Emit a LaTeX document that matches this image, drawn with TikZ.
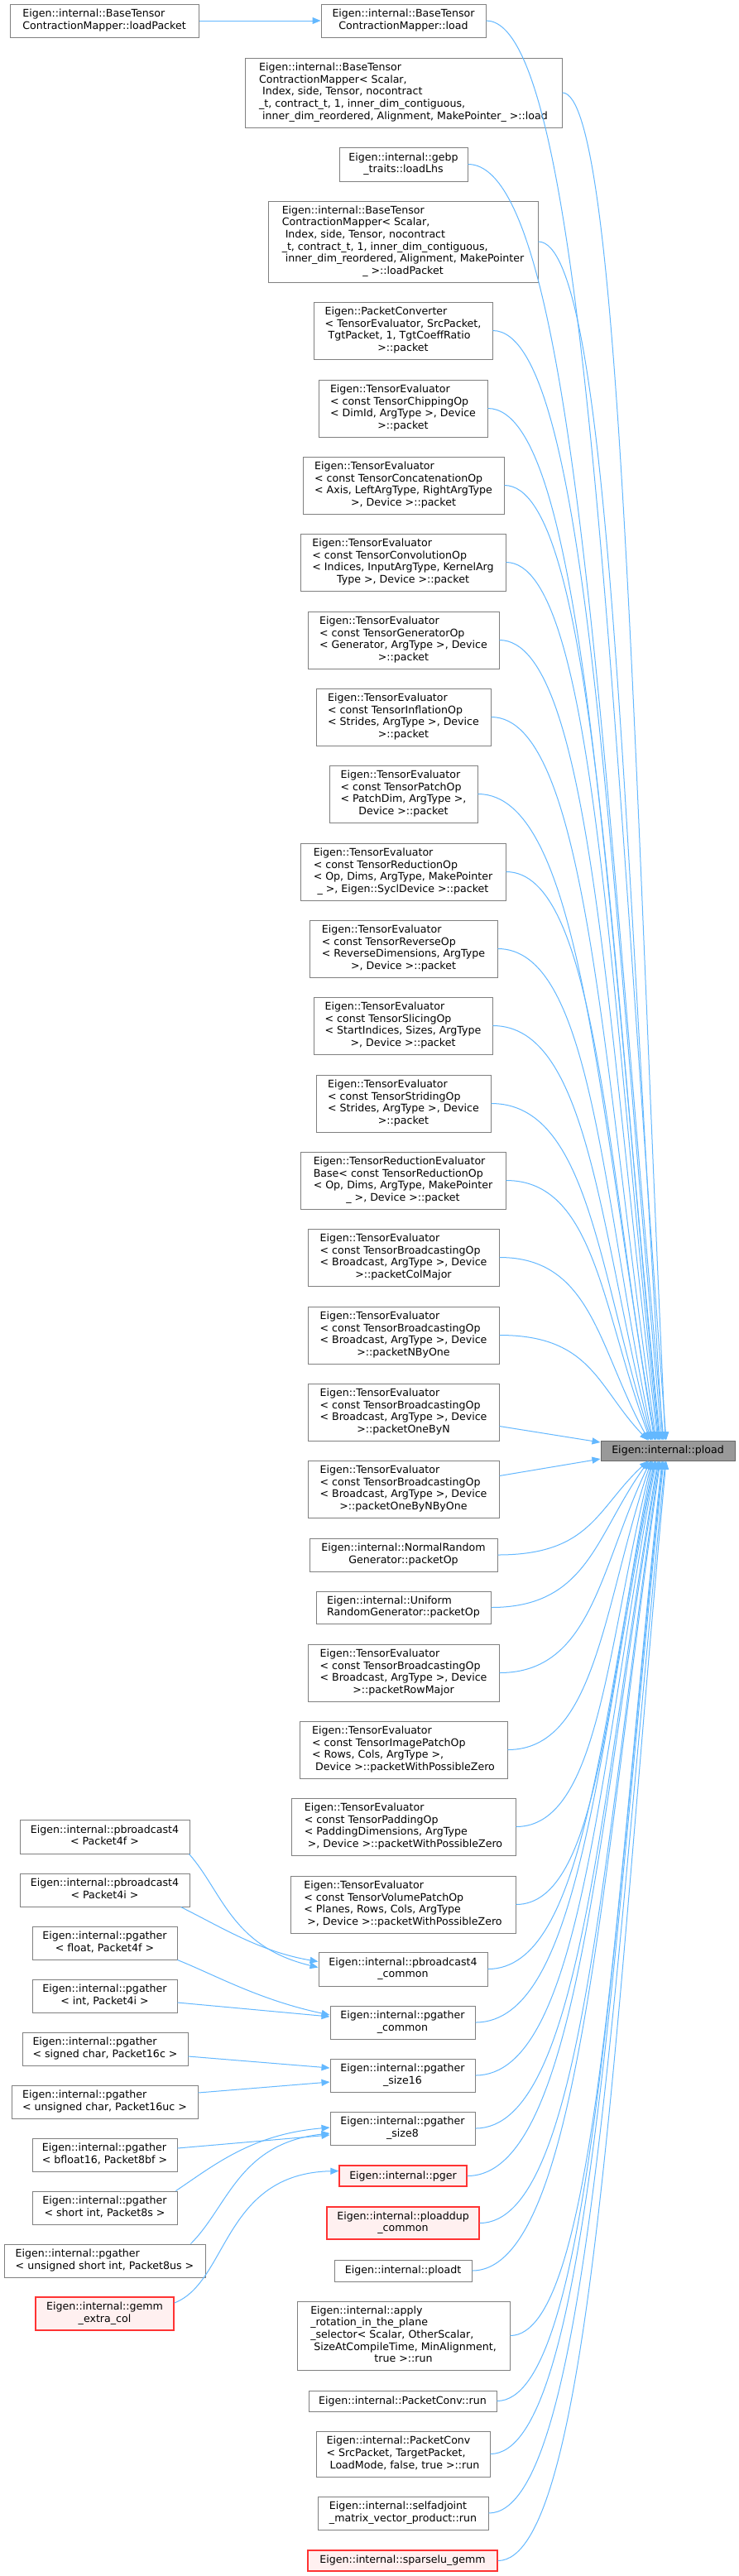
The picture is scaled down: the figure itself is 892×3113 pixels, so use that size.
\documentclass[tikz,border=0pt]{standalone}
\usepackage{fontspec}
\setmainfont{DejaVu Sans}
\usetikzlibrary{arrows.meta,calc}
\definecolor{lnkblue}{HTML}{63B8FF}
\definecolor{boxgrey}{HTML}{808080}
\definecolor{curgrey}{HTML}{666666}
\definecolor{curfill}{HTML}{999999}
\definecolor{boxred}{HTML}{FF3333}
\definecolor{boxpink}{HTML}{FFF0F0}
\begin{document}
\begin{tikzpicture}[x=1pt,y=1pt,>={Triangle[length=10pt,width=8pt]},
	lnk/.style={draw=lnkblue,line width=1pt,->},
	box/.style={draw=boxgrey,fill=white,line width=1pt,inner sep=0pt,font=\fontsize{12.6}{14.7}\selectfont},
	redbox/.style={box,draw=boxred,fill=boxpink,line width=1.3pt},
	curbox/.style={box,draw=curgrey,fill=curfill}]
\fill[white] (0,0) rectangle (892,-3113);
\useasboundingbox (0,0) rectangle (892,-3113);
\def\lbl#1#2{\begin{tabular}{@{}l@{}}#1\\\multicolumn{1}{@{}c@{}}{#2}\end{tabular}}
\def\bx#1#2#3#4#5#6#7{
	\node[#1,minimum width={#4pt-#3pt},minimum height={#6pt-#5pt}] (#2) at ({(#3+#4)/2},{-(#5+#6)/2}) {#7};
}
\def\tup#1#2#3{
	\draw[lnk] let \p1=(#1.east), \p2=(pload.#3) in (#1.east) .. controls +({0.55*(\x2-\x1)},0) and +({-0.3*(\x2-\x1)},{0.5*(\y1-\y2)}) .. ([xshift=#2pt]pload.#3);
}
\bx{curbox}{pload}{726}{888}{1741}{1765}{Eigen::internal::pload}
\bx{box}{lpk}{12}{240}{5}{45}{\lbl{Eigen::internal::BaseTensor}{ContractionMapper::loadPacket}}
\bx{box}{load}{388}{587}{5}{45}{\lbl{Eigen::internal::BaseTensor}{ContractionMapper::load}}
\bx{box}{bcmload}{296}{679}{70}{154}{\lbl{Eigen::internal::BaseTensor\\ContractionMapper< Scalar,\\\ Index, side, Tensor, nocontract\\\_t, contract\_t, 1, inner\_dim\_contiguous,}{\ inner\_dim\_reordered, Alignment, MakePointer\_ >::load}}
\bx{box}{gebp}{410}{565}{178}{219}{\lbl{Eigen::internal::gebp}{\_traits::loadLhs}}
\bx{box}{bcmlpk}{324}{650}{243}{341}{\lbl{Eigen::internal::BaseTensor\\ContractionMapper< Scalar,\\\ Index, side, Tensor, nocontract\\\_t, contract\_t, 1, inner\_dim\_contiguous,\\\ inner\_dim\_reordered, Alignment, MakePointer}{\_ >::loadPacket}}
\bx{box}{pconv}{379}{595}{365}{434}{\lbl{Eigen::PacketConverter\\< TensorEvaluator, SrcPacket,\\\ TgtPacket, 1, TgtCoeffRatio}{>::packet}}
\bx{box}{chip}{385}{589}{459}{528}{\lbl{Eigen::TensorEvaluator\\< const TensorChippingOp\\< DimId, ArgType >, Device}{>::packet}}
\bx{box}{concat}{366}{609}{552}{621}{\lbl{Eigen::TensorEvaluator\\< const TensorConcatenationOp\\< Axis, LeftArgType, RightArgType}{>, Device >::packet}}
\bx{box}{conv}{363}{611}{645}{714}{\lbl{Eigen::TensorEvaluator\\< const TensorConvolutionOp\\< Indices, InputArgType, KernelArg}{Type >, Device >::packet}}
\bx{box}{gen}{372}{603}{739}{808}{\lbl{Eigen::TensorEvaluator\\< const TensorGeneratorOp\\< Generator, ArgType >, Device}{>::packet}}
\bx{box}{infl}{382}{593}{832}{901}{\lbl{Eigen::TensorEvaluator\\< const TensorInflationOp\\< Strides, ArgType >, Device}{>::packet}}
\bx{box}{patch}{398}{577}{925}{994}{\lbl{Eigen::TensorEvaluator\\< const TensorPatchOp\\< PatchDim, ArgType >,}{Device >::packet}}
\bx{box}{red}{363}{611}{1019}{1088}{\lbl{Eigen::TensorEvaluator\\< const TensorReductionOp\\< Op, Dims, ArgType, MakePointer}{\_ >, Eigen::SyclDevice >::packet}}
\bx{box}{rev}{374}{601}{1112}{1181}{\lbl{Eigen::TensorEvaluator\\< const TensorReverseOp\\< ReverseDimensions, ArgType}{>, Device >::packet}}
\bx{box}{slice}{379}{595}{1205}{1274}{\lbl{Eigen::TensorEvaluator\\< const TensorSlicingOp\\< StartIndices, Sizes, ArgType}{>, Device >::packet}}
\bx{box}{stride}{382}{593}{1299}{1368}{\lbl{Eigen::TensorEvaluator\\< const TensorStridingOp\\< Strides, ArgType >, Device}{>::packet}}
\bx{box}{redbase}{363}{611}{1392}{1461}{\lbl{Eigen::TensorReductionEvaluator\\Base< const TensorReductionOp\\< Op, Dims, ArgType, MakePointer}{\_ >, Device >::packet}}
\bx{box}{colmaj}{372}{603}{1485}{1554}{\lbl{Eigen::TensorEvaluator\\< const TensorBroadcastingOp\\< Broadcast, ArgType >, Device}{>::packetColMajor}}
\bx{box}{nbyone}{372}{603}{1579}{1648}{\lbl{Eigen::TensorEvaluator\\< const TensorBroadcastingOp\\< Broadcast, ArgType >, Device}{>::packetNByOne}}
\bx{box}{onebyn}{372}{603}{1672}{1741}{\lbl{Eigen::TensorEvaluator\\< const TensorBroadcastingOp\\< Broadcast, ArgType >, Device}{>::packetOneByN}}
\bx{box}{onebynbyone}{372}{603}{1765}{1834}{\lbl{Eigen::TensorEvaluator\\< const TensorBroadcastingOp\\< Broadcast, ArgType >, Device}{>::packetOneByNByOne}}
\bx{box}{normal}{374}{601}{1859}{1899}{\lbl{Eigen::internal::NormalRandom}{Generator::packetOp}}
\bx{box}{uniform}{382}{593}{1923}{1962}{\lbl{Eigen::internal::Uniform}{RandomGenerator::packetOp}}
\bx{box}{rowmaj}{372}{603}{1987}{2056}{\lbl{Eigen::TensorEvaluator\\< const TensorBroadcastingOp\\< Broadcast, ArgType >, Device}{>::packetRowMajor}}
\bx{box}{image}{362}{613}{2080}{2149}{\lbl{Eigen::TensorEvaluator\\< const TensorImagePatchOp\\< Rows, Cols, ArgType >,}{\ Device >::packetWithPossibleZero}}
\bx{box}{pad}{352}{623}{2173}{2242}{\lbl{Eigen::TensorEvaluator\\< const TensorPaddingOp\\< PaddingDimensions, ArgType}{\ >, Device >::packetWithPossibleZero}}
\bx{box}{volume}{351}{623}{2267}{2336}{\lbl{Eigen::TensorEvaluator\\< const TensorVolumePatchOp\\< Planes, Rows, Cols, ArgType}{\ >, Device >::packetWithPossibleZero}}
\bx{box}{pbcommon}{385}{589}{2359}{2400}{\lbl{Eigen::internal::pbroadcast4}{\_common}}
\bx{box}{pgcommon}{399}{574}{2424}{2464}{\lbl{Eigen::internal::pgather}{\_common}}
\bx{box}{size16}{399}{574}{2488}{2528}{\lbl{Eigen::internal::pgather}{\_size16}}
\bx{box}{size8}{399}{574}{2552}{2592}{\lbl{Eigen::internal::pgather}{\_size8}}
\bx{redbox}{pger}{410}{564}{2617}{2642}{Eigen::internal::pger}
\bx{redbox}{ploaddup}{395}{579}{2667}{2706}{\lbl{Eigen::internal::ploaddup}{\_common}}
\bx{box}{ploadt}{404}{570}{2731}{2757}{Eigen::internal::ploadt}
\bx{box}{apply}{359}{616}{2781}{2864}{\lbl{Eigen::internal::apply\\\_rotation\_in\_the\_plane\\\_selector< Scalar, OtherScalar,\\\ SizeAtCompileTime, MinAlignment,}{true >::run}}
\bx{box}{pcrun}{373}{600}{2889}{2914}{Eigen::internal::PacketConv::run}
\bx{box}{pcsel}{382}{592}{2938}{2993}{\lbl{Eigen::internal::PacketConv\\< SrcPacket, TargetPacket,}{\ LoadMode, false, true >::run}}
\bx{box}{selfadj}{384}{590}{3017}{3057}{\lbl{Eigen::internal::selfadjoint}{\_matrix\_vector\_product::run}}
\bx{redbox}{sparselu}{372}{601}{3082}{3107}{Eigen::internal::sparselu\_gemm}
\bx{box}{pbf}{24}{229}{2199}{2240}{\lbl{Eigen::internal::pbroadcast4}{< Packet4f >}}
\bx{box}{pbi}{24}{229}{2264}{2304}{\lbl{Eigen::internal::pbroadcast4}{< Packet4i >}}
\bx{box}{pgf}{39}{214}{2328}{2368}{\lbl{Eigen::internal::pgather}{< float, Packet4f >}}
\bx{box}{pgi}{39}{214}{2392}{2432}{\lbl{Eigen::internal::pgather}{< int, Packet4i >}}
\bx{box}{pgsc}{27}{227}{2456}{2496}{\lbl{Eigen::internal::pgather}{< signed char, Packet16c >}}
\bx{box}{pguc}{14}{239}{2520}{2560}{\lbl{Eigen::internal::pgather}{< unsigned char, Packet16uc >}}
\bx{box}{pgbf}{39}{214}{2584}{2624}{\lbl{Eigen::internal::pgather}{< bfloat16, Packet8bf >}}
\bx{box}{pgs}{39}{214}{2648}{2688}{\lbl{Eigen::internal::pgather}{< short int, Packet8s >}}
\bx{box}{pgus}{5}{248}{2712}{2752}{\lbl{Eigen::internal::pgather}{< unsigned short int, Packet8us >}}
\bx{redbox}{gemm}{43}{210}{2776}{2816}{\lbl{Eigen::internal::gemm}{\_extra\_col}}
\draw[lnk] (lpk) -- (load);
\foreach \nm/\dx in {load/-2,bcmload/-3,gebp/-5,bcmlpk/-6,pconv/-7,chip/-9,concat/-10,conv/-11,gen/-12,infl/-14,patch/-15,red/-16,rev/-18,slice/-19,stride/-20,redbase/-21,colmaj/-23,nbyone/-24}{
	\tup{\nm}{\dx}{north}
}
\draw[lnk] ([yshift=-17pt]onebyn.east) -- ([yshift=10pt]pload.west);
\draw[lnk] ([yshift=16pt]onebynbyone.east) -- ([yshift=-10pt]pload.west);
\foreach \nm/\dx in {normal/-24,uniform/-23,rowmaj/-21,image/-20,pad/-19,volume/-18,pbcommon/-16,pgcommon/-15,size16/-14,size8/-12,pger/-11,ploaddup/-10,ploadt/-9,apply/-7,pcrun/-6,pcsel/-5,selfadj/-3,sparselu/-2}{
	\tup{\nm}{\dx}{south}
}
\draw[lnk] ([xshift=-1pt]pbf.south east) .. controls +(40,-45) and +(-105,25) .. ([yshift=2pt]pbcommon.west);
\draw[lnk] ([xshift=-11pt]pbi.south east) .. controls +(50,-25) and +(-70,12) .. ([yshift=9pt]pbcommon.west);
\draw[lnk] (pgf.south east) .. controls +(45,-18) and +(-85,18) .. ([yshift=9pt]pgcommon.west);
\draw[lnk] ([yshift=-8pt]pgi.east) -- ([yshift=7pt]pgcommon.west);
\draw[lnk] ([yshift=-9pt]pgsc.east) -- ([yshift=9pt]size16.west);
\draw[lnk] ([yshift=11pt]pguc.east) -- ([yshift=-8pt]size16.west);
\draw[lnk] ([yshift=8pt]pgbf.east) -- ([yshift=-8pt]size8.west);
\draw[lnk] ([xshift=-2pt]pgs.north east) .. controls +(45,30) and +(-95,-8) .. ([yshift=1pt]size8.west);
\draw[lnk] ([xshift=-18pt]pgus.north east) .. controls +(45,45) and +(-110,-12) .. ([yshift=-6pt]size8.west);
\draw[lnk] ([yshift=13pt]gemm.east) .. controls +(65,25) and +(-140,-3) .. ([yshift=6pt]pger.west);
\end{tikzpicture}
\end{document}
